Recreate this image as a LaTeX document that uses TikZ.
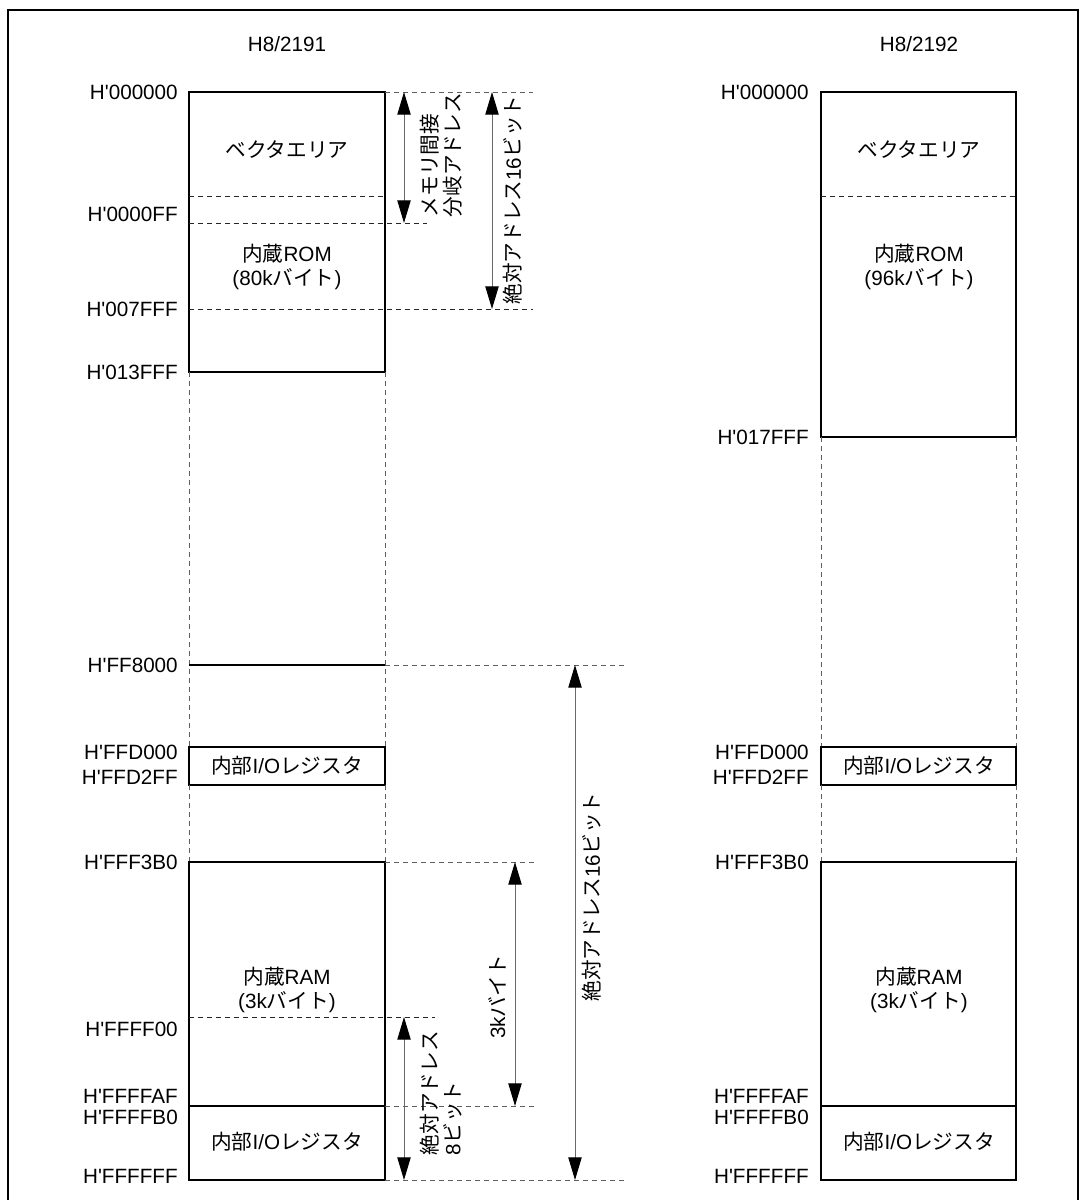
\documentclass[tikz,border=0pt]{standalone}
\usepackage{fontspec}
\setmainfont{Liberation Sans}[Ligatures=TeXOff]
\newfontfamily\jp{Noto Sans CJK JP}
\usetikzlibrary{arrows.meta}
\definecolor{guidegray}{RGB}{95,95,95}
\definecolor{dimgray}{RGB}{105,105,105}
\tikzset{
    txt/.style={font=\fontsize{15.5}{18}\selectfont, align=center, inner sep=0pt},
    addr/.style={txt, anchor=east},
    vtxt/.style={txt, rotate=90, align=left, font=\fontsize{15.5}{17}\selectfont},
    area/.style={draw=black, line width=1.1pt},
    sep/.style={draw=black!85, line width=0.75pt, dash pattern=on 3.75pt off 3pt},
    guide/.style={draw=guidegray, line width=0.75pt, dash pattern=on 3.75pt off 3pt},
    dimtip/.tip={Triangle[length=17pt, width=10pt, color=black, fill=black]},
    dim/.style={draw=dimgray, line width=0.75pt, arrows={dimtip-dimtip}},
    frame/.style={draw=black, line width=1.9pt},
}
\begin{document}
\begin{tikzpicture}[x=0.75pt, y=-0.75pt]
    \path[use as bounding box] (0,0) rectangle (1081,1200);
    \draw[frame] (8,1200) -- (8,10) -- (1078,10) -- (1078,1200);

    % titles
    \node[txt] (title1) at (287,44) {H8/2191};
    \node[txt] (title2) at (919,44) {H8/2192};

    % H8/2191 map
    \draw[area] (189,92) rectangle (385,372);
    \draw[sep] (189,196) -- (385,196);
    \draw[sep] (189,223) -- (427,223);
    \draw[sep] (189,309) -- (533,309);
    \draw[guide] (385,92) -- (533,92);
    \draw[guide] (189,372) -- (189,747) (385,372) -- (385,747);
    \draw[area] (189,665) -- (385,665);
    \draw[guide] (385,665) -- (626,665);
    \draw[area] (189,747) rectangle (385,785);
    \draw[guide] (189,785) -- (189,862) (385,785) -- (385,862);
    \draw[area] (189,862) rectangle (385,1180);
    \draw[area] (189,1106) -- (385,1106);
    \draw[sep] (189,1017) -- (435,1017);
    \draw[guide] (385,862) -- (535,862);
    \draw[guide] (385,1106) -- (535,1106);
    \draw[guide] (385,1180) -- (626,1180);

    \foreach \y/\a in {92/000000, 214/0000FF, 309/007FFF, 372/013FFF,
        665/FF8000, 752/FFD000, 777/FFD2FF, 862/FFF3B0, 1029/FFFF00,
        1096/FFFFAF, 1117/FFFFB0, 1176/FFFFFF}
        \node[addr] (la-\a) at (178,\y) {H'\a};

    \node[txt] (vec1) at (287,150) {\jp ベクタエリア};
    \node[txt] (rom1) at (287,267) {{\jp 内蔵}ROM\\(80k{\jp バイト})};
    \node[txt] (ioa1) at (287,766) {{\jp 内部}I/O{\jp レジスタ}};
    \node[txt] (ram1) at (287,990) {{\jp 内蔵}RAM\\(3k{\jp バイト})};
    \node[txt] (iob1) at (287,1142) {{\jp 内部}I/O{\jp レジスタ}};

    % range arrows
    \coordinate (ind-s) at (404,92);
    \coordinate (ind-e) at (404,223);
    \coordinate (a16-s) at (492,92);
    \coordinate (a16-e) at (492,309);
    \coordinate (b16-s) at (575,665);
    \coordinate (b16-e) at (575,1180);
    \coordinate (kb-s) at (515,862);
    \coordinate (kb-e) at (515,1106);
    \coordinate (a8-s) at (404,1017);
    \coordinate (a8-e) at (404,1180);
    \draw[dim] (ind-s) -- (ind-e);
    \draw[dim] (a16-s) -- (a16-e);
    \draw[dim] (b16-s) -- (b16-e);
    \draw[dim] (kb-s) -- (kb-e);
    \draw[dim] (a8-s) -- (a8-e);

    \node[vtxt] (ind) at (441,155) {{\jp メモリ間接}\\{\jp 分岐アドレス}};
    \node[vtxt] (a16) at (513,200) {{\jp 絶対アドレス}16{\jp ビット}};
    \node[vtxt] (b16) at (592,897) {{\jp 絶対アドレス}16{\jp ビット}};
    \node[vtxt] (kb) at (497,997) {3k{\jp バイト}};
    \node[vtxt] (a8) at (441,1093) {{\jp 絶対アドレス}\\8{\jp ビット}};

    % H8/2192 map
    \draw[area] (821,92) rectangle (1016,437);
    \draw[sep] (821,196) -- (1016,196);
    \draw[guide] (821,437) -- (821,747) (1016,437) -- (1016,747);
    \draw[area] (821,747) rectangle (1016,785);
    \draw[guide] (821,785) -- (821,862) (1016,785) -- (1016,862);
    \draw[area] (821,862) rectangle (1016,1180);
    \draw[area] (821,1106) -- (1016,1106);

    \foreach \y/\a in {92/000000, 437/017FFF, 752/FFD000, 777/FFD2FF,
        862/FFF3B0, 1096/FFFFAF, 1117/FFFFB0, 1176/FFFFFF}
        \node[addr] (lb-\a) at (809,\y) {H'\a};

    \node[txt] (vec2) at (919,150) {\jp ベクタエリア};
    \node[txt] (rom2) at (919,267) {{\jp 内蔵}ROM\\(96k{\jp バイト})};
    \node[txt] (ioa2) at (919,766) {{\jp 内部}I/O{\jp レジスタ}};
    \node[txt] (ram2) at (919,990) {{\jp 内蔵}RAM\\(3k{\jp バイト})};
    \node[txt] (iob2) at (919,1142) {{\jp 内部}I/O{\jp レジスタ}};
\end{tikzpicture}
\end{document}
